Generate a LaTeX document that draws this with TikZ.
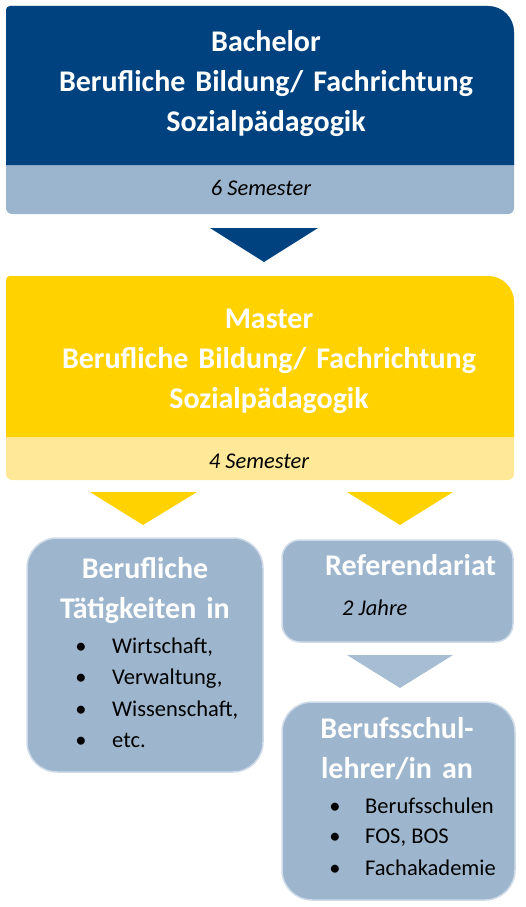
\documentclass[tikz,border=0pt]{standalone}
\usepackage{fontspec}
\setmainfont{Carlito}
\usepackage{tikz}
\definecolor{bachelorblue}{RGB}{0,66,127}
\definecolor{bandblue}{RGB}{155,181,206}
\definecolor{masteryellow}{RGB}{255,210,0}
\definecolor{bandyellow}{RGB}{255,233,153}
\definecolor{boxblue}{RGB}{157,182,206}
\definecolor{boxrim}{RGB}{207,219,232}
\definecolor{chevronblue}{RGB}{166,189,211}
\tikzset{
  headline/.style={font=\bfseries\fontsize{30}{40}\selectfont, text=white, text width=500pt, align=center, inner sep=0pt, anchor=base},
  semester/.style={font=\itshape\fontsize{22.5}{26}\selectfont, text=black, inner sep=0pt, anchor=base},
  listitem/.style={font=\fontsize{22.5}{26}\selectfont, text=black, inner sep=0pt, anchor=base west},
  dot/.style={font=\fontsize{22.5}{26}\selectfont, text=black, inner sep=0pt, anchor=base},
  roundbox/.style={fill=boxblue, draw=boxrim, line width=1.5pt}
}
\begin{document}
\begin{tikzpicture}[x=1pt,y=-1pt]
      \useasboundingbox (0,0) rectangle (525,907);

      % Bachelor
      \fill [bandblue] (6,110) [rounded corners=4pt] -- (6,6) [rounded corners=26pt] -- (514,6) [rounded corners=6pt] -- (514,214) -- (6,214) -- cycle;
      \fill [bachelorblue] (6,110) [rounded corners=4pt] -- (6,6) [rounded corners=26pt] -- (514,6) [sharp corners] -- (514,165) -- (6,165) -- cycle;
      \node [headline] (bachelor) at (266,52) {Bachelor\\Berufliche Bildung/ Fachrichtung\\Sozialpädagogik};
      \node [semester] (sem6) at (261,195) {6 Semester};
      \fill [bachelorblue] (210,228) -- (318,228) -- (264,262) -- cycle;

      % Master
      \fill [bandyellow] (6,380) [rounded corners=4pt] -- (6,276) [rounded corners=26pt] -- (514,276) [rounded corners=6pt] -- (514,480) -- (6,480) -- cycle;
      \fill [masteryellow] (6,380) [rounded corners=4pt] -- (6,276) [rounded corners=26pt] -- (514,276) [sharp corners] -- (514,437) -- (6,437) -- cycle;
      \node [headline] (master) at (269,328) {Master\\Berufliche Bildung/ Fachrichtung\\Sozialpädagogik};
      \node [semester] (sem4) at (259,468) {4 Semester};
      \fill [masteryellow] (90,492) -- (197,492) -- (143,525) -- cycle;
      \fill [masteryellow] (347,492) -- (453,492) -- (400,525) -- cycle;

      % Berufliche Taetigkeiten
      \draw [roundbox, rounded corners=30pt] (27,538) rectangle (263,772);
      \node [headline] (jobs) at (145,578) {Berufliche\\Tätigkeiten in};
      \node [dot] (jobdot1) at (81,653) {\textbullet};
      \node [listitem] (job1) at (112,653) {Wirtschaft,};
      \node [dot] (jobdot2) at (81,684) {\textbullet};
      \node [listitem] (job2) at (112,684) {Verwaltung,};
      \node [dot] (jobdot3) at (81,716) {\textbullet};
      \node [listitem] (job3) at (112,716) {Wissenschaft,};
      \node [dot] (jobdot4) at (81,747) {\textbullet};
      \node [listitem] (job4) at (112,747) {etc.};

      % Referendariat
      \draw [roundbox, rounded corners=18pt] (282,540) rectangle (513,642);
      \node [headline, anchor=base west, text width=] (ref) at (325,575) {Referendariat};
      \node [semester, anchor=base west] (refyears) at (342,615) {2 Jahre};
      \fill [chevronblue] (347,655) -- (453,655) -- (400,688) -- cycle;

      % Berufsschullehrer
      \draw [roundbox, rounded corners=30pt] (282,702) rectangle (515,900);
      \node [headline] (teacher) at (397,738) {Berufsschul-\\lehrer/in an};
      \node [dot] (schooldot1) at (335,813) {\textbullet};
      \node [listitem] (school1) at (365,813) {Berufsschulen};
      \node [dot] (schooldot2) at (335,843) {\textbullet};
      \node [listitem] (school2) at (365,843) {FOS, BOS};
      \node [dot] (schooldot3) at (335,875) {\textbullet};
      \node [listitem] (school3) at (365,875) {Fachakademie};

    \end{tikzpicture}
\end{document}
